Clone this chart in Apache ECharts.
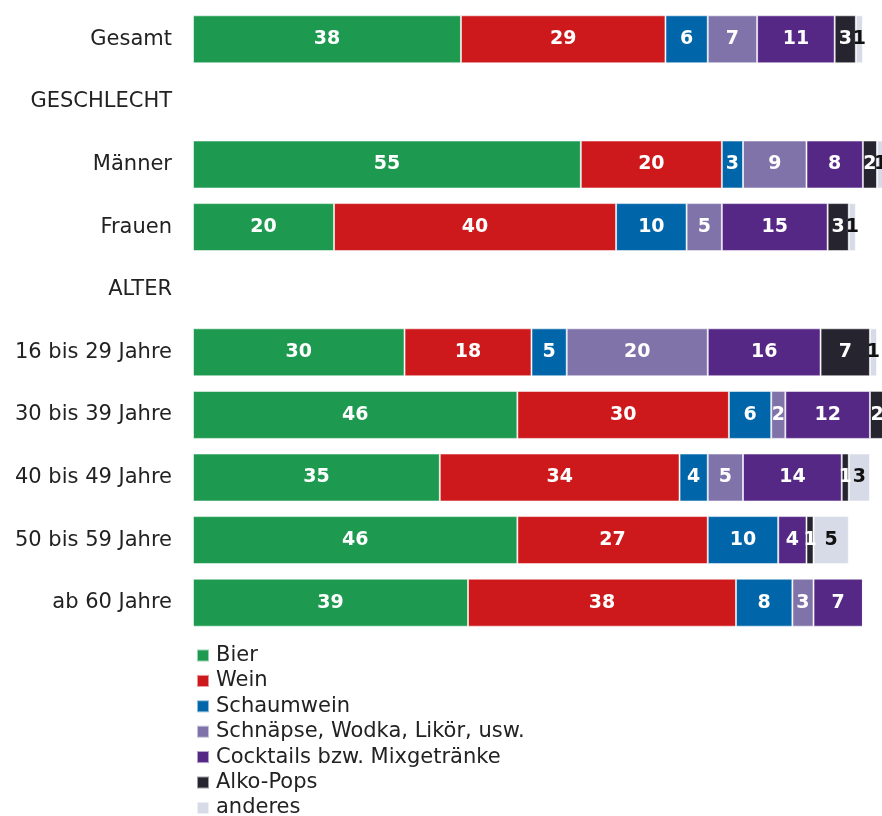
<!DOCTYPE html>
<html>
<head>
<meta charset="utf-8">
<script src="https://cdn.jsdelivr.net/npm/echarts@6/dist/echarts.min.js"></script>
<style>
  html, body { margin: 0; padding: 0; background: #fff; }
  #chart { width: 882px; height: 816px; }
</style>
</head>
<body>
<div id="chart"></div>
<script>
// Row labels (section headers have no bars)
const categories = ['Gesamt', 'GESCHLECHT', 'Männer', 'Frauen', 'ALTER',
  '16 bis 29 Jahre', '30 bis 39 Jahre', '40 bis 49 Jahre', '50 bis 59 Jahre', 'ab 60 Jahre'];

// Share per drink type, in percent, one value per row
const bier       = [38, null, 55, 20, null, 30, 46, 35, 46, 39];
const wein       = [29, null, 20, 40, null, 18, 30, 34, 27, 38];
const schaumwein = [6,  null, 3,  10, null, 5,  6,  4,  10, 8];
const schnaepse  = [7,  null, 9,  5,  null, 20, 2,  5,  0,  3];
const cocktails  = [11, null, 8,  15, null, 16, 12, 14, 4,  7];
const alkoPops   = [3,  null, 2,  3,  null, 7,  2,  1,  1,  0];
const anderes    = [1,  null, 1,  1,  null, 1,  0,  3,  5,  0];

const seriesDefs = [
  { name: 'Bier', data: bier, color: '#1e9a50', text: '#fff' },
  { name: 'Wein', data: wein, color: '#cd191b', text: '#fff' },
  { name: 'Schaumwein', data: schaumwein, color: '#0066a9', text: '#fff' },
  { name: 'Schnäpse, Wodka, Likör, usw.', data: schnaepse, color: '#8073aa', text: '#fff' },
  { name: 'Cocktails bzw. Mixgetränke', data: cocktails, color: '#552886', text: '#fff' },
  { name: 'Alko-Pops', data: alkoPops, color: '#25242f', text: '#fff' },
  { name: 'anderes', data: anderes, color: '#d6dbe7', text: '#111' }
];

const FONT = 'DejaVu Sans';

const chart = echarts.init(document.getElementById('chart'), null, { renderer: 'canvas' });

chart.setOption({
  animation: false,
  backgroundColor: '#fff',
  grid: { left: 193, right: 5, top: 8, height: 626, containLabel: false },
  xAxis: {
    type: 'value', min: 0, max: 97,
    show: false
  },
  yAxis: {
    type: 'category', data: categories, inverse: true,
    axisLine: { show: false }, axisTick: { show: false },
    axisLabel: { margin: 21, fontFamily: FONT, fontSize: 21, color: '#222' }
  },
  legend: {
    orient: 'vertical', left: 196, top: 645, height: 200, padding: 0,
    itemWidth: 12, itemHeight: 12, itemGap: 4.4,
    icon: 'rect',
    textStyle: { fontFamily: FONT, fontSize: 21, color: '#222', padding: [0, 0, 0, 2], lineHeight: 20.2 },
    data: seriesDefs.map(s => s.name)
  },
  series: seriesDefs.map(s => ({
    name: s.name,
    type: 'bar',
    stack: 'total',
    barWidth: 48,
    clip: false,
    data: s.data,
    itemStyle: { color: s.color, borderColor: 'rgba(255,255,255,0.55)', borderWidth: 1 },
    label: {
      show: true,
      position: 'inside',
      fontFamily: FONT, fontWeight: 'bold', fontSize: 19,
      color: s.text, textBorderWidth: 0,
      formatter: p => (p.value ? String(p.value) : '')
    }
  }))
});
</script>
</body>
</html>
